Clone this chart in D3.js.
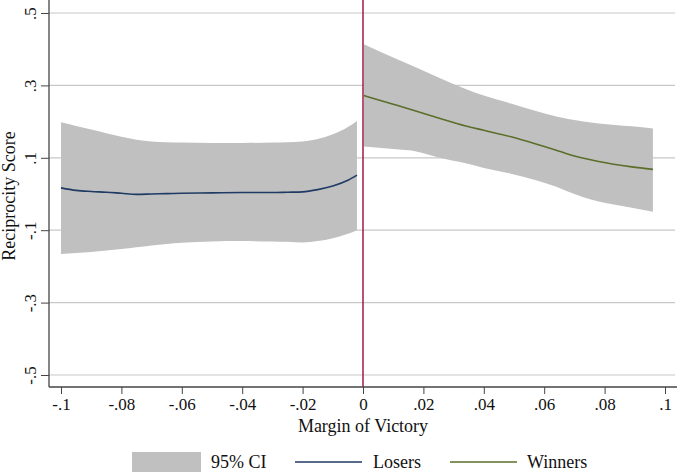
<!DOCTYPE html>
<html><head><meta charset="utf-8">
<script src="https://cdn.jsdelivr.net/npm/d3@7"></script>
<style>body{margin:0;background:#fff}svg{display:block}svg text{font-family:"Liberation Serif","Times New Roman",Times,"DejaVu Serif",serif !important}</style>
</head><body><svg id="c" width="677" height="474"></svg>
<script>
// Losers (margin < 0)
const loseX  = [-0.1,-0.095,-0.09,-0.085,-0.08,-0.075,-0.07,-0.065,-0.06,-0.05,-0.04,-0.03,-0.025,-0.02,-0.015,-0.01,-0.005,-0.002];
const loseFit= [0.017,0.010,0.007,0.005,0.002,-0.001,0.000,0.001,0.002,0.003,0.004,0.004,0.005,0.006,0.012,0.022,0.038,0.052];
const loseHi = [0.198,0.188,0.178,0.168,0.158,0.150,0.145,0.143,0.142,0.141,0.141,0.142,0.143,0.145,0.152,0.165,0.185,0.202];
const loseLo = [-0.166,-0.163,-0.160,-0.156,-0.152,-0.147,-0.142,-0.138,-0.135,-0.131,-0.130,-0.131,-0.132,-0.134,-0.130,-0.122,-0.110,-0.100];
// Winners (margin > 0)
const winX   = [0.0003,0.01,0.018,0.025,0.034,0.04,0.049,0.057,0.064,0.068,0.078,0.089,0.096];
const winFit = [0.272,0.248,0.228,0.210,0.188,0.176,0.158,0.139,0.121,0.110,0.090,0.075,0.068];
const winHi  = [0.414,0.377,0.348,0.322,0.290,0.272,0.250,0.230,0.214,0.207,0.195,0.187,0.181];
const winLo  = [0.131,0.124,0.117,0.101,0.085,0.072,0.056,0.039,0.020,0.006,-0.021,-0.038,-0.049];
const xTicks = [-0.1,-0.08,-0.06,-0.04,-0.02,0,0.02,0.04,0.06,0.08,0.1];
const xTickLabels = ["-.1","-.08","-.06","-.04","-.02","0",".02",".04",".06",".08",".1"];
const yTicks = [-0.5,-0.3,-0.1,0.1,0.3,0.5];
const yTickLabels = ["-.5","-.3","-.1",".1",".3",".5"];
const legendItems = ["95% CI","Losers","Winners"];

const FONT = '"Liberation Serif","Times New Roman",Times,"DejaVu Serif",serif';
const svg = d3.select("#c");
const L=49, R=677, T=0, B=387;
const x = d3.scaleLinear().domain([-0.1,0.1]).range([61,665]);
const y = d3.scaleLinear().domain([-0.5,0.5]).range([375,13]);

// gridlines
svg.append("g").selectAll("line").data(yTicks).join("line")
  .attr("x1",L).attr("x2",675).attr("y1",d=>y(d)).attr("y2",d=>y(d))
  .attr("stroke","#c8c8c8").attr("stroke-width",1.2);

const area = d3.area().x(d=>x(d[0])).y0(d=>y(d[1])).y1(d=>y(d[2])).curve(d3.curveMonotoneX);
const line = d3.line().x(d=>x(d[0])).y(d=>y(d[1])).curve(d3.curveMonotoneX);
const lData = loseX.map((v,i)=>[v,loseLo[i],loseHi[i],loseFit[i]]);
const wData = winX.map((v,i)=>[v,winLo[i],winHi[i],winFit[i]]);
svg.append("path").datum(lData).attr("d",area).attr("fill","#c0c0c0");
svg.append("path").datum(wData).attr("d",area).attr("fill","#c0c0c0");
svg.append("path").datum(lData.map(d=>[d[0],d[3]])).attr("d",line).attr("fill","none").attr("stroke","#1f3b63").attr("stroke-width",1.6);
svg.append("path").datum(wData.map(d=>[d[0],d[3]])).attr("d",line).attr("fill","none").attr("stroke","#5b6e2a").attr("stroke-width",1.6);

// red vertical line at 0
svg.append("line").attr("x1",x(0)).attr("x2",x(0)).attr("y1",T).attr("y2",B)
  .attr("stroke","#a3174a").attr("stroke-width",1.5);

// axes
const xa = svg.append("g").attr("transform",`translate(0,${B})`)
  .call(d3.axisBottom(x).tickValues(xTicks).tickFormat((d,i)=>xTickLabels[i]).tickSize(7).tickPadding(4));
xa.attr("font-family",FONT).attr("font-size",17);
xa.select(".domain").attr("d",`M${L},0H${R}`).attr("stroke","#444").attr("stroke-width",1.3);
xa.selectAll(".tick line").attr("stroke","#444");
xa.selectAll("text").attr("fill","#111");

const ya = svg.append("g").attr("transform",`translate(${L},0)`)
  .call(d3.axisLeft(y).tickValues(yTicks).tickFormat((d,i)=>yTickLabels[i]).tickSize(8).tickPadding(4));
ya.attr("font-family",FONT).attr("font-size",17);
ya.select(".domain").attr("d",`M0,${T}V${B}`).attr("stroke","#444").attr("stroke-width",1.3);
ya.selectAll(".tick line").attr("stroke","#444");
ya.selectAll("text").attr("fill","#111")
  .attr("transform","rotate(-90)").attr("x",0).attr("y",-13).attr("dy","0").attr("text-anchor","middle");

// titles
svg.append("text").attr("x",363).attr("y",432).attr("text-anchor","middle").attr("font-size",18).attr("font-family",FONT).attr("fill","#111").text("Margin of Victory");
svg.append("text").attr("transform","translate(15,196) rotate(-90)").attr("text-anchor","middle").attr("font-size",18).attr("font-family",FONT).attr("fill","#111").text("Reciprocity Score");

// legend
const lg = svg.append("g").attr("font-family",FONT).attr("font-size",18).attr("fill","#111");
lg.append("rect").attr("x",132).attr("y",452).attr("width",69).attr("height",20).attr("fill","#c0c0c0");
lg.append("text").attr("x",211).attr("y",468).text(legendItems[0]);
lg.append("line").attr("x1",295).attr("x2",362).attr("y1",462).attr("y2",462).attr("stroke","#1f3b63").attr("stroke-width",1.6);
lg.append("text").attr("x",373).attr("y",468).text(legendItems[1]);
lg.append("line").attr("x1",450).attr("x2",517).attr("y1",462).attr("y2",462).attr("stroke","#5b6e2a").attr("stroke-width",1.6);
lg.append("text").attr("x",527).attr("y",468).text(legendItems[2]);
</script></body></html>
